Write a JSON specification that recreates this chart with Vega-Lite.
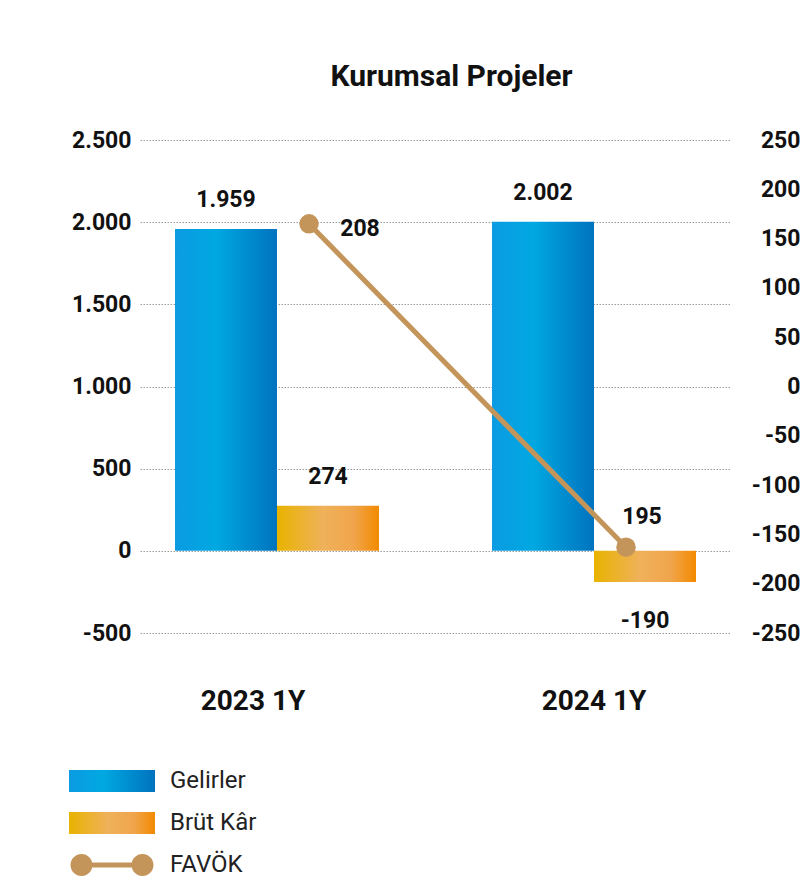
{
  "$schema": "https://vega.github.io/schema/vega-lite/v6.json",
  "width": 605,
  "height": 493,
  "autosize": "none",
  "padding": {"left": 140, "top": 140, "right": 58, "bottom": 247},
  "background": "white",
  "title": {
    "text": "Kurumsal Projeler",
    "font": "Roboto",
    "fontSize": 30,
    "fontWeight": "bold",
    "color": "#111111",
    "anchor": "middle",
    "frame": "group",
    "dx": 9,
    "baseline": "alphabetic",
    "offset": 13
  },
  "data": {
    "values": [
      {"year": "2023 1Y", "series": "Gelirler", "value": 1959, "label": "1.959"},
      {"year": "2023 1Y", "series": "Brüt Kâr", "value": 274, "label": "274"},
      {"year": "2024 1Y", "series": "Gelirler", "value": 2002, "label": "2.002"},
      {"year": "2024 1Y", "series": "Brüt Kâr", "value": -190, "label": "-190"},
      {"year": "2023 1Y", "series": "FAVÖK", "value": 165, "label": "208"},
      {"year": "2024 1Y", "series": "FAVÖK", "value": -163, "label": "195"}
    ]
  },
  "encoding": {
    "x": {
      "field": "year",
      "type": "nominal",
      "sort": ["2023 1Y", "2024 1Y"],
      "scale": {"domain": ["2023 1Y", "2024 1Y"], "range": [0, 591], "paddingInner": 0.3565, "paddingOuter": 0.1104},
      "axis": {
        "title": null,
        "domain": false,
        "ticks": false,
        "grid": false,
        "labelAngle": 0,
        "labelFont": "Roboto",
        "labelFontSize": 28,
        "labelFontWeight": "bold",
        "labelColor": "#111111",
        "labelPadding": 54,
        "labelOffset": {"condition": {"test": "datum.value === '2023 1Y'", "value": -24}, "value": 0}
      }
    }
  },
  "layer": [
    {
      "encoding": {
        "y": {
          "field": "value",
          "type": "quantitative",
          "scale": {"domain": [-500, 2500], "nice": false, "zero": false},
          "axis": {
            "orient": "left",
            "title": null,
            "values": [-500, 0, 500, 1000, 1500, 2000, 2500],
            "labelExpr": "(datum.value < 0 ? '-' : '') + replace(format(abs(datum.value), ','), ',', '.')",
            "domain": false,
            "ticks": false,
            "grid": true,
            "gridColor": "#9a9a9a",
            "gridDash": [1.5, 1.5],
            "gridWidth": 1,
            "labelFont": "Roboto",
            "labelFontSize": 23,
            "labelFontWeight": "bold",
            "labelColor": "#111111",
            "labelPadding": 9
          }
        },
        "xOffset": {"field": "series", "type": "nominal", "scale": {"domain": ["Gelirler", "Brüt Kâr"], "paddingInner": 0, "paddingOuter": 0}}
      },
      "layer": [
        {
          "transform": [{"filter": "datum.series === 'Gelirler'"}],
          "mark": {
            "type": "bar",
            "color": {"gradient": "linear", "x1": 0, "y1": 0, "x2": 1, "y2": 0, "stops": [{"offset": 0, "color": "#0b9be2"}, {"offset": 0.4, "color": "#00a8e1"}, {"offset": 1, "color": "#0073bf"}]}
          }
        },
        {
          "transform": [{"filter": "datum.series === 'Brüt Kâr'"}],
          "mark": {
            "type": "bar",
            "color": {"gradient": "linear", "x1": 0, "y1": 0, "x2": 1, "y2": 0, "stops": [{"offset": 0, "color": "#e8b300"}, {"offset": 0.45, "color": "#efb15a"}, {"offset": 0.75, "color": "#f0a54c"}, {"offset": 1, "color": "#f38a00"}]}
          }
        },
        {
          "transform": [{"filter": "datum.series !== 'FAVÖK' && datum.value >= 0"}],
          "mark": {"type": "text", "font": "Roboto", "fontSize": 23, "fontWeight": "bold", "color": "#111111", "align": "center", "baseline": "alphabetic", "dy": -22},
          "encoding": {"text": {"field": "label", "type": "nominal"}}
        },
        {
          "transform": [{"filter": "datum.series !== 'FAVÖK' && datum.value < 0"}],
          "mark": {"type": "text", "font": "Roboto", "fontSize": 23, "fontWeight": "bold", "color": "#111111", "align": "center", "baseline": "alphabetic", "dy": 46},
          "encoding": {"text": {"field": "label", "type": "nominal"}}
        },
        {
          "data": {"values": [{"series": "Gelirler"}, {"series": "Brüt Kâr"}, {"series": "FAVÖK"}]},
          "mark": {"type": "point", "filled": true, "opacity": 0},
          "encoding": {
            "color": {
              "field": "series",
              "type": "nominal",
              "scale": {
                "domain": ["Gelirler", "Brüt Kâr", "FAVÖK"],
                "range": [
                  {"expr": "{gradient: 'linear', x1: 0, y1: 0, x2: 1, y2: 0, stops: [{offset: 0, color: '#0b9be2'}, {offset: 0.4, color: '#00a8e1'}, {offset: 1, color: '#0073bf'}]}"},
                  {"expr": "{gradient: 'linear', x1: 0, y1: 0, x2: 1, y2: 0, stops: [{offset: 0, color: '#e8b300'}, {offset: 0.45, color: '#efb15a'}, {offset: 0.75, color: '#f0a54c'}, {offset: 1, color: '#f38a00'}]}"},
                  "#c4955a"
                ]
              },
              "legend": {
                "title": null,
                "orient": "none",
                "legendX": -72,
                "legendY": 629,
                "direction": "vertical",
                "padding": 0,
                "symbolSize": 484,
                "symbolOffset": 32,
                "symbolStrokeWidth": 0,
                "symbolOpacity": 1,
                "labelOffset": 46,
                "labelFont": "Roboto",
                "labelFontSize": 24,
                "labelFontWeight": "normal",
                "labelColor": "#222222",
                "rowPadding": 18
              }
            },
            "shape": {
              "field": "series",
              "type": "nominal",
              "scale": {
                "domain": ["Gelirler", "Brüt Kâr", "FAVÖK"],
                "range": [
                  "M-3.909,-1H3.909V1H-3.909Z",
                  "M-3.909,-1H3.909V1H-3.909Z",
                  "M-3.773,0A1,1 0 1,1 -1.773,0A1,1 0 1,1 -3.773,0Z M1.773,0A1,1 0 1,1 3.773,0A1,1 0 1,1 1.773,0Z M-2.773,-0.227H2.773V0.227H-2.773Z"
                ]
              },
              "legend": {
                "title": null,
                "orient": "none",
                "legendX": -72,
                "legendY": 629,
                "direction": "vertical",
                "padding": 0,
                "symbolSize": 484,
                "symbolOffset": 32,
                "symbolStrokeWidth": 0,
                "symbolOpacity": 1,
                "labelOffset": 46,
                "labelFont": "Roboto",
                "labelFontSize": 24,
                "labelFontWeight": "normal",
                "labelColor": "#222222",
                "rowPadding": 18
              }
            }
          }
        }
      ]
    },
    {
      "transform": [{"filter": "datum.series === 'FAVÖK'"}],
      "encoding": {
        "y": {
          "field": "value",
          "type": "quantitative",
          "scale": {"domain": [-250, 250], "nice": false, "zero": false},
          "axis": {
            "orient": "right",
            "title": null,
            "values": [-250, -200, -150, -100, -50, 0, 50, 100, 150, 200, 250],
            "labelExpr": "(datum.value < 0 ? '-' : '') + format(abs(datum.value), 'd')",
            "domain": false,
            "ticks": false,
            "grid": false,
            "labelFont": "Roboto",
            "labelFontSize": 23,
            "labelFontWeight": "bold",
            "labelColor": "#111111",
            "labelAlign": "right",
            "labelPadding": 55
          }
        }
      },
      "layer": [
        {
          "mark": {"type": "line", "color": "#c4955a", "strokeWidth": 5, "xOffset": 32}
        },
        {
          "mark": {"type": "circle", "size": 380, "opacity": 1, "color": "#c4955a", "xOffset": 32}
        },
        {
          "transform": [{"filter": "datum.year === '2023 1Y'"}],
          "mark": {"type": "text", "font": "Roboto", "fontSize": 23, "fontWeight": "bold", "color": "#111111", "align": "center", "baseline": "alphabetic", "dx": 83, "dy": 12},
          "encoding": {"text": {"field": "label", "type": "nominal"}}
        },
        {
          "transform": [{"filter": "datum.year === '2024 1Y'"}],
          "mark": {"type": "text", "font": "Roboto", "fontSize": 23, "fontWeight": "bold", "color": "#111111", "align": "center", "baseline": "alphabetic", "dx": 48, "dy": -23},
          "encoding": {"text": {"field": "label", "type": "nominal"}}
        }
      ]
    }
  ],
  "resolve": {"scale": {"y": "independent"}},
  "config": {
    "view": {"stroke": null},
    "font": "Roboto"
  }
}
